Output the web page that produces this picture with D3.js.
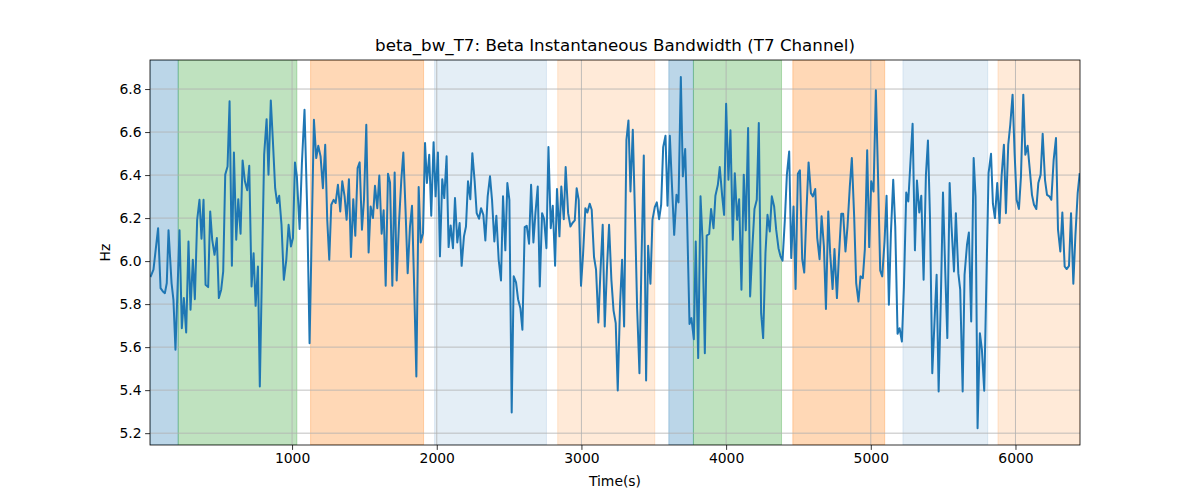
<!DOCTYPE html>
<html>
<head>
<meta charset="utf-8">
<script src="https://cdn.jsdelivr.net/npm/d3@7"></script>
<style>
  body { margin: 0; background: #fff; }
  svg { font-family: "DejaVu Sans", sans-serif; }
  .tick text { font-size: 13.9px; fill: #000; }
</style>
</head>
<body>
<svg width="1200" height="500"></svg>
<script>
// sample times (s) and bandwidth values (Hz)
var times = [21,42,74,91,107,121,134,146,167,180,194,222,238,252,268,284,298,314,328,344,360,374,388,402,420,434,448,464,480,494,510,524,538,554,568,584,598,614,628,644,658,674,690,704,720,734,748,764,777,807,824,837,853,867,883,897,911,927,943,960,976,992,1006,1020,1033,1052,1068,
  1086,1105,1121,1151,1167,1181,1197,1213,1229,1243,1257,1271,1287,1301,1317,1333,1347,1363,1377,1393,1407,1423,1437,1453,1467,1483,1497,1513,1529,1543,1559,1573,1589,1603,1619,1633,1647,1663,1677,1693,1709,1723,1739,1755,1769,1785,1799,1815,1829,1845,1859,1875,1889,1905,1919,1932,1948,1962,1978,1992,2008,2022,2038,2052,2068,2082,2096,2112,2126,2142,
  2158,2172,2188,2202,2216,2232,2246,2262,2276,2292,2306,2322,2336,2352,2368,2382,2398,2412,2428,2444,2458,2474,2488,2502,2518,2532,2548,2562,2578,2592,2608,2622,2638,2652,2668,2682,2698,2712,2728,2742,2758,2772,2788,2802,2818,2831,2848,2861,2878,2891,2908,2924,2938,2954,2967,2981,2997,3011,3027,3041,3057,3071,3087,3101,3117,3131,3147,3161,3177,3191,3207,
  3222,3237,3251,3267,3281,3295,3311,3325,3339,3355,3371,3385,3401,3415,3431,3447,3461,3477,3491,3507,3521,3537,3551,3565,3581,3595,3611,3624,3641,3657,3671,3687,3701,3717,3730,3747,3760,3777,3790,3807,3823,3837,3853,3866,3883,3896,3913,3926,3943,3956,3973,3986,4000,4016,4030,4046,4060,4076,4090,4106,4122,4136,4152,4166,4182,4196,4212,4226,4242,4256,4272,4286,
  4302,4316,4332,4346,4362,4376,4390,4406,4420,4436,4450,4466,4480,4496,4510,4526,4540,4556,4570,4586,4600,4616,4630,4646,4660,4676,4690,4706,4719,4736,4749,4766,4779,4796,4809,4825,4839,4855,4869,4885,4899,4915,4929,4945,4959,4975,4989,5003,5019,5035,5049,5065,5079,5095,5109,5125,5139,5155,5169,5185,5199,5215,5229,5245,5259,5275,5289,5305,5319,5335,5349,5365,
  5381,5395,5409,5425,5441,5455,5469,5485,5499,5515,5529,5545,5558,5575,5588,5605,5618,5635,5648,5665,5678,5694,5711,5724,5738,5754,5768,5784,5801,5814,5831,5844,5858,5874,5890,5904,5920,5934,5950,5964,5980,5994,6008,6024,6038,6054,6068,6084,6098,6114,6128,6144,6158,6174,6188,6204,6218,6234,6248,6264,6280,6294,6310,6324,6340,6354,6370,6384,6400,6414,6430,6444];

var values = [5.926,5.960,6.153,5.874,5.859,5.851,5.898,6.143,5.898,5.820,5.588,6.143,5.688,5.828,5.668,6.091,5.774,6.006,5.823,6.192,6.285,6.104,6.285,5.890,5.879,6.231,6.099,6.029,6.107,5.828,5.867,5.952,6.402,6.440,6.743,5.978,6.505,6.099,6.288,6.127,6.468,6.371,6.329,6.443,5.882,6.037,5.792,5.975,5.417,6.495,6.660,6.402,6.747,6.564,6.339,6.270,6.304,6.169,5.913,6.006,6.169,6.068,6.107,6.459,6.394,6.149,6.456,
  6.704,6.223,5.618,6.657,6.479,6.536,6.487,6.339,6.541,6.192,6.006,6.262,6.285,6.270,6.355,6.231,6.371,6.301,6.192,6.381,6.019,6.288,6.118,6.432,6.459,6.146,6.285,6.634,6.040,6.254,6.200,6.350,6.246,6.398,6.127,6.236,5.885,6.406,6.366,5.885,6.412,5.910,6.177,6.378,6.505,6.223,5.944,6.161,6.257,5.851,5.464,6.344,6.087,6.130,6.549,6.363,6.495,6.211,6.553,6.301,6.505,6.022,6.381,6.293,6.487,6.065,6.166,6.060,6.293,6.087,
  6.177,5.978,6.115,6.161,6.371,6.288,6.502,6.371,6.223,6.197,6.246,6.215,6.096,6.301,6.394,6.285,6.091,6.211,6.006,5.910,6.301,6.050,6.363,6.285,5.296,5.929,5.901,5.823,5.781,5.681,6.158,6.164,6.081,6.355,6.087,6.223,6.347,5.882,6.223,6.195,6.060,6.530,6.153,6.257,5.978,6.335,6.115,6.347,6.195,6.437,6.223,6.161,6.177,6.189,6.339,6.285,5.885,6.029,6.246,6.226,6.267,6.239,6.019,5.960,5.715,5.944,6.169,5.696,5.975,6.169,5.913,
  5.770,5.712,5.398,5.800,6.006,5.696,6.564,6.654,6.324,6.611,6.192,5.781,5.479,5.998,6.491,5.445,6.071,5.895,6.192,6.251,6.273,6.195,6.262,6.530,6.583,6.257,6.583,6.378,6.122,6.308,6.273,6.856,6.394,6.521,6.208,5.708,5.735,5.637,6.091,5.549,6.301,6.099,5.572,6.119,6.126,6.242,6.153,6.304,6.355,6.437,6.301,6.215,6.732,6.378,6.608,6.099,6.409,6.192,6.288,5.867,6.402,6.143,6.619,5.836,6.071,6.242,6.285,6.642,5.758,5.642,6.037,6.215,
  6.138,6.301,6.254,6.146,6.060,6.022,6.002,6.192,6.402,6.510,6.014,6.254,5.870,6.406,6.422,6.009,5.947,6.242,6.459,6.316,6.301,6.335,6.107,6.009,6.208,6.068,5.777,6.231,6.037,5.870,6.056,5.828,6.014,6.220,6.220,6.045,6.161,6.347,6.479,6.208,5.898,5.812,5.929,5.921,6.056,6.515,6.065,6.371,6.324,6.794,6.425,5.957,5.929,6.091,6.304,5.797,6.130,6.378,6.161,5.662,5.688,5.626,5.882,6.319,6.277,6.471,6.639,6.050,6.375,6.226,6.304,5.913,
  6.400,6.561,6.208,5.479,5.727,5.936,5.394,5.851,6.319,5.944,5.642,6.363,6.161,5.952,6.223,5.944,5.867,5.394,5.936,6.076,6.133,5.719,6.479,6.301,5.223,5.665,5.588,5.397,5.975,6.409,6.499,6.267,6.200,6.363,6.177,6.394,6.541,6.223,6.541,6.634,6.774,6.502,6.285,6.242,6.394,6.774,6.495,6.536,6.432,6.308,6.262,6.242,6.363,6.402,6.592,6.378,6.308,6.301,6.285,6.471,6.572,6.146,6.045,6.226,5.975,5.963,5.978,6.223,5.895,6.115,6.316,6.409];

// shaded phases
var spanStarts = [18, 213, 1128, 1985, 2836, 3604, 3774, 4461, 5222, 5879];
var spanEnds   = [213, 1033, 1909, 2758, 3507, 3774, 4383, 5096, 5808, 6446];
var spanKinds  = ['blue', 'green', 'orange', 'paleblue', 'paleorange', 'blue', 'green', 'orange', 'paleblue', 'paleorange'];

var xTicks = [1000, 2000, 3000, 4000, 5000, 6000];
var yTicks = [5.2, 5.4, 5.6, 5.8, 6.0, 6.2, 6.4, 6.6, 6.8];

function main() {
	var svg = d3.select('svg');
	var margin = {left: 150, right: 120, top: 60, bottom: 55};
	var w = 1200 - margin.left - margin.right,
		h = 500 - margin.top - margin.bottom;

	var spanStyle = {
		blue: {c: '#1f77b4', a: 0.3},
		green: {c: '#2ca02c', a: 0.3},
		orange: {c: '#ff7f0e', a: 0.3},
		paleblue: {c: '#1f77b4', a: 0.12},
		paleorange: {c: '#ff7f0e', a: 0.16}
	};

	var x = d3.scaleLinear().domain([18, 6446]).range([0, w]);
	var y = d3.scaleLinear().domain([5.145, 6.935]).range([h, 0]);

	var g = svg.append('g')
		.attr('transform', 'translate(' + margin.left + ',' + margin.top + ')');

	g.append('defs').append('clipPath').attr('id', 'clip')
		.append('rect').attr('width', w).attr('height', h);

	var spans = spanStarts.map(function(s, i) { return {s: s, e: spanEnds[i], k: spanKinds[i]}; });
	g.append('g').attr('clip-path', 'url(#clip)')
		.selectAll('rect').data(spans).enter().append('rect')
		.attr('x', function(d) { return x(d.s); })
		.attr('width', function(d) { return x(d.e) - x(d.s); })
		.attr('y', 0)
		.attr('height', h)
		.attr('fill', function(d) { return spanStyle[d.k].c; })
		.attr('fill-opacity', function(d) { return spanStyle[d.k].a; })
		.attr('stroke', function(d) { return spanStyle[d.k].c; })
		.attr('stroke-opacity', function(d) { return spanStyle[d.k].a; })
		.attr('stroke-width', 1);

	// grid
	g.append('g').selectAll('line').data(xTicks).enter().append('line')
		.attr('x1', function(d) { return x(d); }).attr('x2', function(d) { return x(d); })
		.attr('y1', 0).attr('y2', h)
		.attr('stroke', '#b0b0b0').attr('stroke-width', 0.8);
	g.append('g').selectAll('line').data(yTicks).enter().append('line')
		.attr('y1', function(d) { return y(d); }).attr('y2', function(d) { return y(d); })
		.attr('x1', 0).attr('x2', w)
		.attr('stroke', '#b0b0b0').attr('stroke-width', 0.8);

	var line = d3.line()
		.x(function(d, i) { return x(times[i]); })
		.y(function(d) { return y(d); });

	g.append('path')
		.datum(values)
		.attr('clip-path', 'url(#clip)')
		.attr('d', line)
		.attr('fill', 'none')
		.attr('stroke', '#1f77b4')
		.attr('stroke-width', 2)
		.attr('stroke-linejoin', 'round');

	// axes
	var xAxis = g.append('g')
		.attr('transform', 'translate(0,' + h + ')')
		.call(d3.axisBottom(x).tickValues(xTicks).tickFormat(d3.format('d')).tickSize(4.9).tickPadding(3.5));
	var yAxis = g.append('g')
		.call(d3.axisLeft(y).tickValues(yTicks).tickFormat(d3.format('.1f')).tickSize(4.9).tickPadding(3.5));
	[xAxis, yAxis].forEach(function(a) {
		a.select('.domain').remove();
		a.selectAll('.tick line').attr('stroke', '#000').attr('stroke-width', 0.8);
		a.selectAll('.tick text').attr('font-family', 'DejaVu Sans');
	});

	g.append('rect')
		.attr('width', w).attr('height', h)
		.attr('fill', 'none').attr('stroke', '#000').attr('stroke-width', 0.8);

	// labels
	svg.append('text')
		.attr('x', margin.left + w / 2).attr('y', 51)
		.attr('text-anchor', 'middle')
		.style('font-size', '16.7px')
		.text('beta_bw_T7: Beta Instantaneous Bandwidth (T7 Channel)');
	svg.append('text')
		.attr('x', margin.left + w / 2).attr('y', 486)
		.attr('text-anchor', 'middle')
		.style('font-size', '13.9px')
		.text('Time(s)');
	svg.append('text')
		.attr('transform', 'translate(110,' + (margin.top + h / 2) + ') rotate(-90)')
		.attr('text-anchor', 'middle')
		.style('font-size', '13.9px')
		.text('Hz');
}
main();
</script>
</body>
</html>
